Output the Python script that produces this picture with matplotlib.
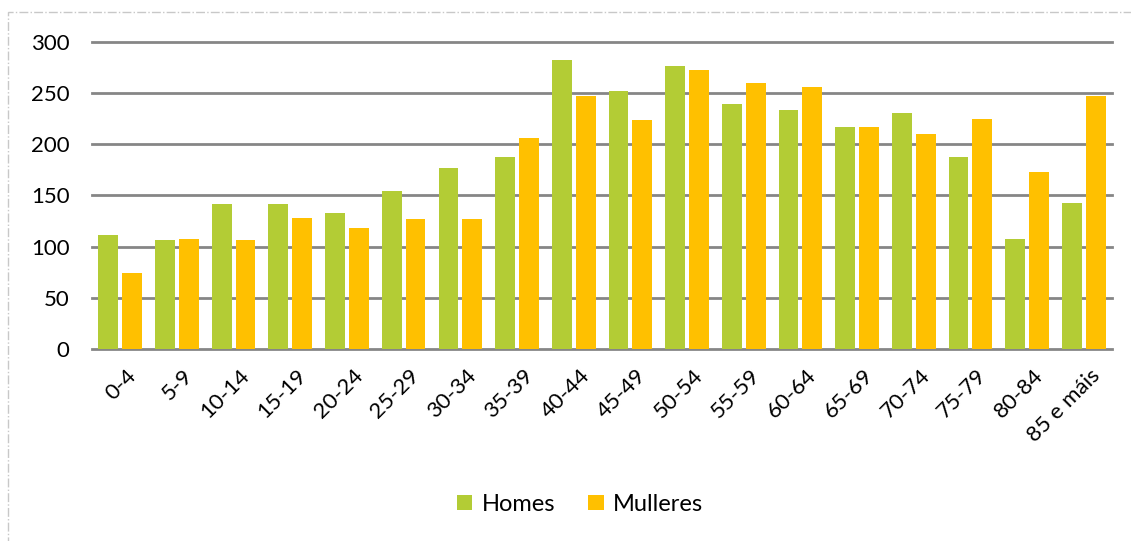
import matplotlib
matplotlib.use('Agg')
import matplotlib.pyplot as plt
import numpy as np
from matplotlib.patches import Rectangle

plt.rcParams['font.family'] = ['Lato', 'DejaVu Sans']

# age groups and counts
age_groups = ['0-4', '5-9', '10-14', '15-19', '20-24', '25-29', '30-34', '35-39',
              '40-44', '45-49', '50-54', '55-59', '60-64', '65-69', '70-74',
              '75-79', '80-84', '85 e máis']
homes = [111, 106, 142, 142, 133, 154, 177, 188, 282, 252, 276, 239, 233, 217,
         231, 188, 107, 143]
mulleres = [74, 107, 106, 128, 118, 127, 127, 206, 247, 224, 273, 260, 256, 217,
            210, 225, 173, 247]
y_ticks = [0, 50, 100, 150, 200, 250, 300]

green = '#B3CC35'
yellow = '#FFC000'

fig = plt.figure(figsize=(11.31, 5.41), dpi=100)
ax = fig.add_axes([0.0813, 0.355, 0.902, 0.5675])

x = np.arange(len(age_groups))
ax.bar(x - 0.21, homes, width=0.35, color=green, label='Homes', zorder=3)
ax.bar(x + 0.21, mulleres, width=0.35, color=yellow, label='Mulleres', zorder=3)

ax.set_xlim(-0.5, len(age_groups) - 0.5)
ax.set_ylim(0, 300)
ax.set_yticks(y_ticks)
ax.set_yticklabels([str(v) for v in y_ticks], fontsize=16)
ax.yaxis.grid(True, color='#868686', linewidth=2, zorder=0)
for gl in ax.get_ygridlines():
    gl.set_clip_on(False)
ax.tick_params(axis='y', length=0, pad=16)
ax.tick_params(axis='x', length=0, pad=12)
for s in ax.spines.values():
    s.set_visible(False)

ax.set_xticks(x + 0.1)
ax.set_xticklabels(age_groups, rotation=45, ha='right', rotation_mode='anchor',
                   fontsize=16)

leg = fig.legend(loc='center', bbox_to_anchor=(0.513, 0.068), ncol=2,
                 frameon=False, fontsize=17, handlelength=0.65, handleheight=0.65,
                 handletextpad=0.4, columnspacing=1.4)

# dashed outline of the chart area
fig.patches.append(Rectangle((8 / 1131, -0.1), 1.2, 1 - 12 / 541 + 0.1,
                             transform=fig.transFigure, fill=False,
                             edgecolor='#C8C8C8', linestyle='-.', linewidth=1))

fig.savefig('out.png', dpi=100)
